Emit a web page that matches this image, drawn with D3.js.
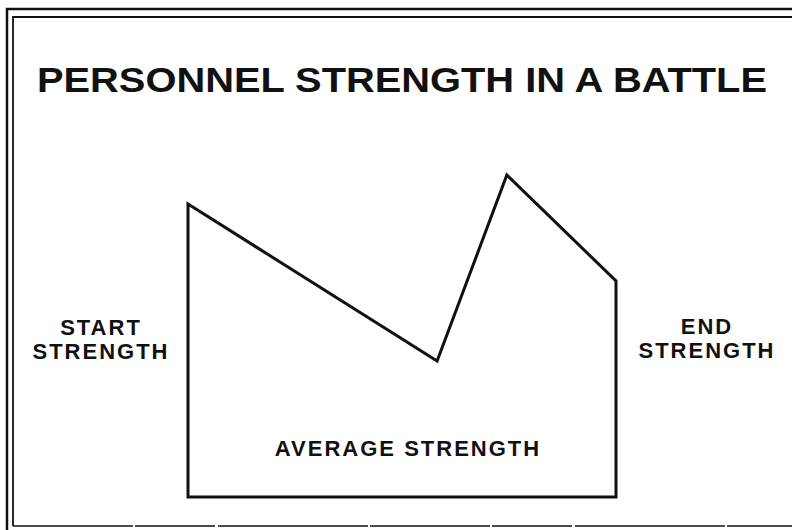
<!DOCTYPE html>
<html>
<head>
<meta charset="utf-8">
<script src="https://cdn.jsdelivr.net/npm/d3@7"></script>
<style>
  html, body { margin: 0; padding: 0; background: #fff; }
  svg { display: block; }
  text { font-family: "Liberation Sans", Arial, sans-serif; font-weight: bold; fill: #111; }
</style>
</head>
<body>
<div id="chart"></div>
<script>
// battle timeline (percent of duration) and personnel strength (percent of peak)
var timePoints = [0, 58.2, 74.5, 100];
var strengthValues = [91, 42.2, 100, 67.1];

var titleText = 'PERSONNEL STRENGTH IN A BATTLE';
var startLabel = ['START', 'STRENGTH'];
var endLabel = ['END', 'STRENGTH'];
var averageLabel = 'AVERAGE STRENGTH';

var width = 792, height = 530;

var svg = d3.select('#chart').append('svg')
  .attr('width', width)
  .attr('height', height);

// outer frame, double line on the left and top like the original plate
svg.append('path')
  .attr('d', 'M7,530 L7,9 L792,9')
  .attr('fill', 'none').attr('stroke', '#111').attr('stroke-width', 2.5);
svg.append('path')
  .attr('d', 'M13,526 L13,17 L792,17')
  .attr('fill', 'none').attr('stroke', '#111').attr('stroke-width', 1.8);
svg.append('line')
  .attr('x1', 13).attr('x2', 792).attr('y1', 526).attr('y2', 526)
  .attr('stroke', '#111').attr('stroke-width', 1.5)
  .attr('stroke-dasharray', '120,2,80,3,150,2');

// scales
var x = d3.scaleLinear().domain([0, 100]).range([188, 616]);
var y = d3.scaleLinear().domain([0, 100]).range([497, 175]);

var data = timePoints.map(function (t, i) {
  return { t: t, v: strengthValues[i] };
});

// strength profile as a closed area down to the baseline
var area = d3.area()
  .x(function (d) { return x(d.t); })
  .y0(y(0))
  .y1(function (d) { return y(d.v); });

svg.append('path')
  .attr('d', area(data))
  .attr('fill', 'none')
  .attr('stroke', '#111')
  .attr('stroke-width', 3)
  .attr('stroke-linejoin', 'miter');

// title
svg.append('text')
  .attr('x', 402).attr('y', 92)
  .attr('text-anchor', 'middle')
  .attr('font-size', 35)
  .attr('textLength', 730)
  .attr('lengthAdjust', 'spacingAndGlyphs')
  .text(titleText);

function twoLine(lines, cx, y0) {
  var t = svg.append('text')
    .attr('text-anchor', 'middle')
    .attr('font-size', 22)
    .attr('letter-spacing', 2);
  lines.forEach(function (s, i) {
    t.append('tspan').attr('x', cx + 1).attr('y', y0 + i * 24).text(s);
  });
}
twoLine(startLabel, 100, 335);
twoLine(endLabel, 706, 334);

svg.append('text')
  .attr('x', 408).attr('y', 456)
  .attr('text-anchor', 'middle')
  .attr('font-size', 22)
  .attr('letter-spacing', 2)
  .text(averageLabel);
</script>
</body>
</html>
